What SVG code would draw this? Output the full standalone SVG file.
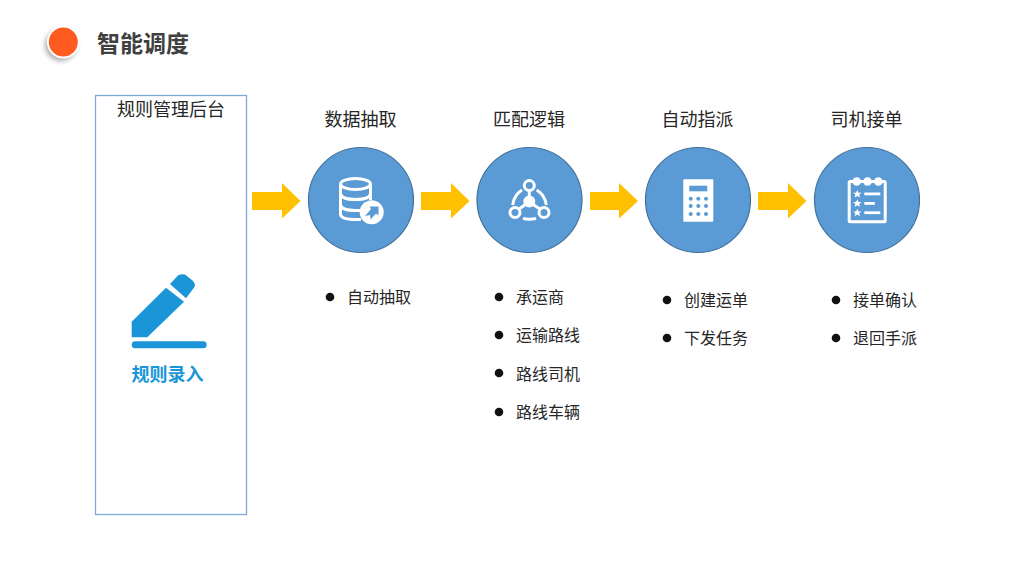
<svg xmlns="http://www.w3.org/2000/svg" width="1024" height="576" viewBox="0 0 1024 576">
<style>
text{font-family:"Noto Sans CJK SC","Liberation Sans",sans-serif;fill:#262626}
.head{font-size:18px;text-anchor:middle}
.li{font-size:16px}
.circle{fill:#5b9bd5;stroke:#41719c;stroke-width:1.200}
.ar{fill:#ffc000}
.ic{fill:none;stroke:#fff;stroke-width:3}
.wh{fill:#fff}
.bl{fill:#5b9bd5}
</style>
<defs>
<filter id="sh" x="-50%" y="-50%" width="200%" height="200%"><feGaussianBlur stdDeviation="2.500"/></filter>
<g id="bullet"><circle r="4.300" fill="#111"/></g>
<path id="star" d="M0-4l1.200 2.700h3l-2.300 1.900l.9 3l-2.800-1.700l-2.800 1.700l.9-3l-2.300-1.900h3z"/>
</defs>
<rect width="1024" height="576" fill="#fff"/>
<g id="title">
<circle cx="61" cy="45" r="16" fill="#777" opacity=".6" filter="url(#sh)"/>
<circle cx="63.300" cy="42" r="16.500" fill="#fff"/>
<circle cx="63.300" cy="42" r="14.500" fill="#ff5a1f"/>
<text x="97" y="52" font-size="23" font-weight="700" style="fill:#404040">智能调度</text>
</g>
<g id="backend">
<rect x="95.500" y="95.500" width="151" height="419" fill="none" stroke="#7aa9da" stroke-width="1.300"/>
<text x="171" y="116" class="head">规则管理后台</text>
<g fill="#1a96d8">
<path d="M131.700 321.700L166 287.700L184 301.700L147.300 337.300H131.700Z"/>
<path d="M170 284L178 275.500Q181 273.500 185 274.500L192.500 280.500Q196 284 194.500 287L186 298.300Z"/>
<rect x="131.700" y="341.300" width="75" height="7" rx="3.500"/>
</g>
<text x="167.500" y="380.500" font-size="18" font-weight="700" text-anchor="middle" style="fill:#1a96d8">规则录入</text>
</g>
<g id="connectors">
<path class="ar" d="M252 192H282V183L300.500 201L282 218.500V210H252Z"/>
<path class="ar" d="M421 192H451V183L469.500 201L451 218.500V210H421Z"/>
<path class="ar" d="M590 192H619V183L638 201L619 218.500V210H590Z"/>
<path class="ar" d="M758 192H788V183L806.500 201L788 218.500V210H758Z"/>
</g>
<g id="node-extract">
<text x="360.500" y="126" class="head">数据抽取</text>
<circle class="circle" cx="361" cy="200" r="52.500"/>
<g class="ic">
<ellipse cx="355.500" cy="184" rx="15" ry="5.500"/>
<path d="M340.500 184V214Q340.500 219.500 355.500 219.500H361M340.500 194Q342 199.500 355.500 199.500T370.500 194M340.500 205Q342 210.500 355.500 210.500H360M370.500 184V200"/>
</g>
<circle class="wh" cx="371.700" cy="212.300" r="12"/>
<path class="bl" d="M365 216l6-7l-1.500-2.500h9v9l-2.500-2l-5.500 6l-.5-4.500z"/>
</g>
<g id="node-match">
<text x="529" y="126" class="head">匹配逻辑</text>
<circle class="circle" cx="529.500" cy="200" r="52.500"/>
<g class="ic">
<circle cx="529.300" cy="185.500" r="5"/>
<circle cx="529.300" cy="201.500" r="4.500" fill="#fff"/>
<circle cx="515" cy="212.500" r="5"/>
<circle cx="544" cy="212.500" r="5"/>
<path d="M529.300 190.500V197M525.500 204.500L519 209M533 204.500L540 209M522 190Q514 195 512.700 205M536.700 190Q545 195 546.300 205M523 218.500Q529.500 220 536 218.500"/>
</g>
</g>
<g id="node-assign">
<text x="697.500" y="126" class="head">自动指派</text>
<circle class="circle" cx="698" cy="200" r="52.500"/>
<rect class="wh" x="683.300" y="179.300" width="30" height="42.400" rx="1"/>
<rect class="bl" x="689.300" y="185.700" width="18" height="5.600"/>
<g class="bl"><circle cx="690.700" cy="198.700" r="2"/><circle cx="698.300" cy="198.700" r="2"/><circle cx="706" cy="198.700" r="2"/><circle cx="690.700" cy="206" r="2"/><circle cx="698.300" cy="206" r="2"/><circle cx="706" cy="206" r="2"/><circle cx="690.700" cy="214" r="2"/><circle cx="698.300" cy="214" r="2"/><circle cx="706" cy="214" r="2"/></g>
</g>
<g id="node-accept">
<text x="866.500" y="126" class="head">司机接单</text>
<circle class="circle" cx="867" cy="200" r="52.500"/>
<rect x="849.200" y="181.500" width="36" height="40.300" rx="1" fill="none" stroke="#fff" stroke-width="3"/>
<g class="wh"><circle cx="856.700" cy="181.500" r="4.300"/><circle cx="867.500" cy="181.500" r="4.300"/><circle cx="878.300" cy="181.500" r="4.300"/>
<rect x="864.300" y="192.500" width="16" height="2.800"/><rect x="864.300" y="202" width="10.500" height="2.800"/><rect x="864.300" y="211.300" width="16" height="2.800"/>
<use href="#star" x="857.300" y="194"/><use href="#star" x="857.300" y="203.300"/><use href="#star" x="857.300" y="212.700"/></g>
</g>
<g id="list-extract">
<use href="#bullet" x="330" y="297"/><text x="347" y="303" class="li">自动抽取</text>
</g>
<g id="list-match">
<use href="#bullet" x="499" y="297"/><text x="516" y="303" class="li">承运商</text>
<use href="#bullet" x="499" y="335"/><text x="516" y="341" class="li">运输路线</text>
<use href="#bullet" x="499" y="373"/><text x="516" y="379.500" class="li">路线司机</text>
<use href="#bullet" x="499" y="412"/><text x="516" y="418" class="li">路线车辆</text>
</g>
<g id="list-assign">
<use href="#bullet" x="667" y="300"/><text x="684" y="306" class="li">创建运单</text>
<use href="#bullet" x="667" y="338"/><text x="684" y="344" class="li">下发任务</text>
</g>
<g id="list-accept">
<use href="#bullet" x="836" y="300"/><text x="853" y="306" class="li">接单确认</text>
<use href="#bullet" x="836" y="338"/><text x="853" y="344" class="li">退回手派</text>
</g>
</svg>
